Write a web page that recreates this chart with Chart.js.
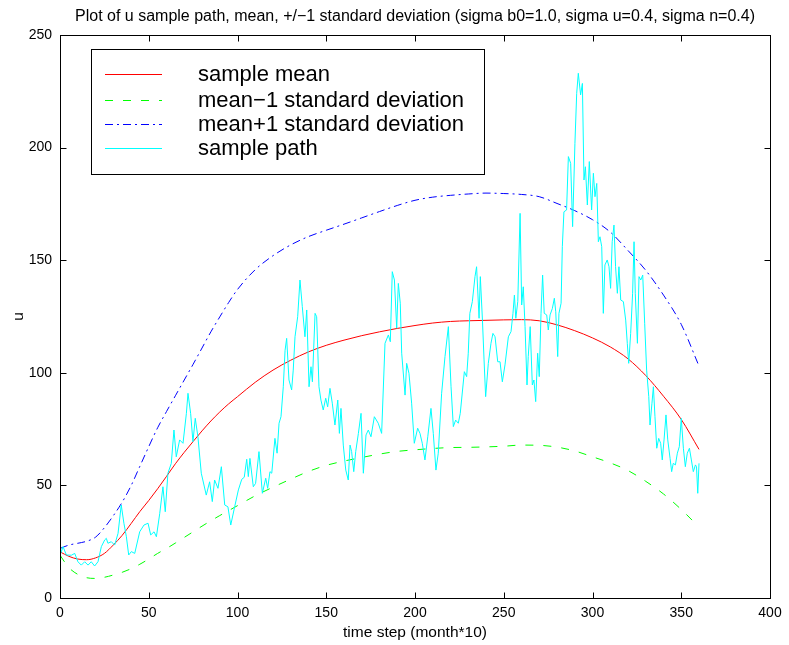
<!DOCTYPE html>
<html><head><meta charset="utf-8">
<script src="https://cdn.jsdelivr.net/npm/chart.js@4/dist/chart.umd.min.js"></script>
<style>html,body{margin:0;padding:0;background:#fff;}#wrap{width:789px;height:645px;position:relative;}</style>
</head><body><div id="wrap"><canvas id="c" width="789" height="645"></canvas></div>
<script>
const titleText = "Plot of u sample path, mean, +/\u22121 standard deviation (sigma b0=1.0, sigma u=0.4, sigma n=0.4)";
const xLabel = "time step (month*10)";
const yLabel = "u";
const xTicks = [0,50,100,150,200,250,300,350,400];
const yTicks = [0,50,100,150,200,250];
const seriesNames = ["sample mean","mean\u22121 standard deviation","mean+1 standard deviation","sample path"];

const gridX = [0,5,10,15,20,25,30,35,40,45,50,55,60,65,70,75,80,85,90,95,100,110,120,130,140,150,160,170,180,190,200,210,220,230,240,250,260,270,280,290,300,310,320,330,340,350,360];
const meanY = [20.5,18.5,17.3,17,17.8,19.8,23.5,27.8,33,38.4,43.3,48.5,54,59.6,64.7,69.5,74.2,78.6,82.6,86.2,89.4,95.8,101.2,105.6,109.3,112.2,114.5,116.5,118.2,119.7,121,122.1,122.8,123.1,123.3,123.5,123.6,123.1,121.3,118.7,115.5,111.5,106.2,98.8,89.6,79.3,66];
const lowerY = [19,13.5,10.5,9,8.7,9.2,10.2,11.4,13,15,17.3,19.8,22,24.4,26.9,29.4,31.9,34.3,36.6,38.8,41,45.4,49.2,52.8,56.2,58.9,60.8,62.4,63.9,65.1,65.8,66.4,66.8,66.9,67.1,67.4,67.9,67.8,67,65.3,62.7,60,56.6,51.8,46.2,39.3,31.5];
const upperY = [22,23.5,24.3,25.2,27,31.2,36.5,42.5,49.8,58.5,67.2,75.6,82.8,89.8,96.8,103.8,111,118.2,124.8,131.2,137,145.8,152,156.8,160.5,163.3,166,168.8,171.6,174.3,176.6,178,178.8,179.4,179.8,179.6,179.2,178.2,175.2,172,168,162.5,154.3,145.5,134.5,121.5,103];

const pathX = [0.4,1.7,3.6,6.4,8.3,10.1,12,13.9,15.8,17.6,19.5,21.4,23.3,25.2,26.1,27,28.9,30.8,32.7,34.5,36,37.4,38.7,40.2,42.1,44.9,47.3,49.6,51.1,53,54.3,56.2,58,59.3,60.8,62.7,64.2,65.5,67.4,69.3,71.2,72.1,73.6,74.9,76.2,77.7,79.6,82.4,84.3,85.8,87.1,89,90.9,92.8,94.6,96.2,98.4,
100.5,102.4,103.8,105.2,106.1,107,108.9,110.2,112.1,114,115.9,117,118.3,119.3,121.1,122.3,123.4,124.5,125.8,126.8,127.7,129,130.5,131.4,132.4,133.9,135.2,136.5,138,139,140.3,141.4,142.2,143.7,144.6,145.9,147,148.3,149.7,150.8,152.1,153.4,154.9,156.5,157.4,158.3,159.6,161,162.4,163.4,164.3,165.5,166.6,168.1,169.6,170.9,172.4,173.7,175.2,177.1,179.3,181.2,183.1,185,186.1,187.2,188.4,189.7,190.6,191.7,192.5,194.4,195.3,196.6,198.1,199.6,
201.5,202.8,204.1,205.6,207.2,209,210.3,211.8,213.1,215,216.9,218.8,220.3,221.6,222.9,224.4,225.5,227.8,229.1,230,230.9,232.3,233.8,234.7,236.1,236.8,238,238.9,239.8,241.3,242.8,243.9,245.1,246.6,247.9,249.2,250.7,252.6,254.1,255.2,256,256.8,257.9,259.2,260.1,261,262,263.1,263.8,264.9,266.1,267,268,269.1,270,271,271.9,272.8,274.2,275.1,276.1,277.4,278.5,279.3,280.4,281.1,282.3,283,283.9,285.4,286.4,287.7,288.8,290.1,291.1,292,293.3,294.3,295.2,296,297.1,298.2,299.5,
300.5,301.4,302.4,303.3,304.2,305.2,306.1,307,308.3,309.3,310.2,311.1,312.1,313,314,314.9,315.9,317.4,318.7,319.6,320.4,321.5,322.6,323.4,324.1,325.3,326.2,327.2,328.3,329.4,330.5,331.7,332.4,333.5,334.3,335.2,336.2,337.3,338.4,339.3,340.3,341.4,342.4,343.7,344.6,345.5,346.7,347.8,348.9,350,351.2,352.3,353.4,354.6,355.7,356.8,358,358.6,359.3,360];
const pathY = [19.8,22.8,19.1,19,19.8,16.1,14.6,16.1,14.6,16.1,14.2,16.1,22.8,25.8,26.5,24.3,25,23.5,28.7,41.3,33.2,27.2,19.1,20.6,19.8,29.4,32.4,33.2,28,29.4,27.2,37.6,49.4,38.3,55.4,59.8,74.6,62.7,70.2,68.7,82,90.9,82,69.4,79.8,71.6,55.4,45.7,51.6,42.8,52.4,48.7,58.3,41.3,40.5,32.4,40.5,
48,52.7,53.6,61.6,53.9,62,49.4,50.9,65,46.5,53.2,48.7,56.1,55.4,70.9,64.3,77.6,80.5,93.8,110,115.3,96.8,92.4,101.2,116,124.9,141.2,129.4,116,127.9,93.8,102.7,96,126.4,124.9,93.8,87.9,83.5,88.7,84.9,93.1,86.5,76.8,87.9,73.1,84.2,67.9,56.8,52.4,67.9,65,56.1,65,73.1,82,55.4,72.4,74.6,71.6,80.5,77.6,73.1,113.1,116.8,113.8,144.9,141.2,119.8,139.7,130.9,108.7,90.1,104.2,99.8,86.5,68.7,
75.4,73.1,68.7,61.3,71.6,84.2,73.1,56.8,64.3,90.9,107.2,120.5,93.8,76.1,79,77.6,82,100.5,98.3,108.7,126.4,131.6,142.7,147.1,124.2,142.7,123.4,105.7,89.4,104.2,113.1,117.5,116,104.9,104.9,96,103.5,116,118.3,126.4,134.5,124.2,131.6,170.8,130.1,138.2,120.5,94.6,107.2,120.5,94.6,96.8,87.2,108.7,98.3,126.4,143.4,126.4,125.7,119,125.7,128.6,133.1,127.1,107.2,126.4,130.9,156,171.5,172.3,196,193,164.9,201.9,224.1,233,223.4,228.5,185.6,191.5,174.5,193.8,172.3,
188.6,178.2,184.1,158.2,160.4,156,126.4,147.9,150.1,147.1,137.5,158.2,165.6,147.1,135.3,147.1,132.3,131.6,123.4,113.1,104.2,117.5,135.3,158.2,135.3,113.1,142.7,141.2,143.4,122,101.2,89.4,76.8,86.5,93.8,80.5,66.5,70.9,68.7,61.3,70.2,81.3,70.2,62,56.1,59.8,59.1,64.3,67.2,79.8,66.5,58.3,64.3,66.5,61.3,56.1,59.1,58.3,46.5,59.8];

const FONT = "'Liberation Sans', Arial, Helvetica, sans-serif";
const toPts = (xs, ys) => xs.map((x, i) => ({x: x, y: ys[i]}));

const styles = [
  {color:'#ff0000', dash:[]},
  {color:'#00ff00', dash:[8,10]},
  {color:'#0000ff', dash:[8,4,2,4]},
  {color:'#00ffff', dash:[]}
];

const decor = {
  id: 'decor',
  afterDraw(chart) {
    const ctx = chart.ctx, a = chart.chartArea;
    const xs = chart.scales.x, ys = chart.scales.y;
    ctx.save();
    ctx.strokeStyle = '#000'; ctx.lineWidth = 1; ctx.setLineDash([]);
    const L = Math.round(a.left) + 0.5, R = Math.round(a.right) + 0.5, T = Math.round(a.top) + 0.5, B = Math.round(a.bottom) + 0.5;
    ctx.strokeRect(L, T, R - L, B - T);
    const tl = 6;
    ctx.beginPath();
    xTicks.forEach(v => {
      const p = Math.round(xs.getPixelForValue(v)) + 0.5;
      ctx.moveTo(p, B); ctx.lineTo(p, B - tl);
      ctx.moveTo(p, T); ctx.lineTo(p, T + tl);
    });
    yTicks.forEach(v => {
      const p = Math.round(ys.getPixelForValue(v)) + 0.5;
      ctx.moveTo(L, p); ctx.lineTo(L + tl, p);
      ctx.moveTo(R, p); ctx.lineTo(R - tl, p);
    });
    ctx.stroke();
    ctx.fillStyle = '#000';
    ctx.textAlign = 'center'; ctx.textBaseline = 'middle';
    ctx.font = '16px ' + FONT;
    ctx.fillText(titleText, (a.left + a.right) / 2, 17);
    ctx.font = '15.5px ' + FONT;
    ctx.fillText(xLabel, (a.left + a.right) / 2, 633);
    ctx.save();
    ctx.translate(19, (a.top + a.bottom) / 2);
    ctx.rotate(-Math.PI / 2);
    ctx.fillText(yLabel, 0, 0);
    ctx.restore();
    const bx = 91.5, by = 49.5, bw = 393, bh = 125;
    ctx.fillStyle = '#fff';
    ctx.fillRect(bx, by, bw, bh);
    ctx.strokeStyle = '#000';
    ctx.strokeRect(bx, by, bw, bh);
    const rows = [74, 100, 124, 148];
    ctx.font = '22px ' + FONT;
    ctx.textAlign = 'left';
    seriesNames.forEach((name, i) => {
      ctx.strokeStyle = styles[i].color;
      ctx.setLineDash(styles[i].dash);
      ctx.beginPath();
      ctx.moveTo(105, rows[i] + 0.5); ctx.lineTo(162, rows[i] + 0.5);
      ctx.stroke();
      ctx.setLineDash([]);
      ctx.fillStyle = '#000';
      ctx.fillText(name, 198, rows[i] + 1);
    });
    ctx.restore();
  }
};

const mk = (i, data, order, smooth) => ({
  label: seriesNames[i], data: data, borderColor: styles[i].color, borderDash: styles[i].dash,
  borderWidth: 1, pointRadius: 0, fill: false, order: order,
  cubicInterpolationMode: smooth ? 'monotone' : 'default', tension: 0
});

new Chart(document.getElementById('c'), {
  type: 'line',
  data: {
    datasets: [
      mk(0, toPts(gridX, meanY), 1, true),
      mk(1, toPts(gridX, lowerY), 2, true),
      mk(2, toPts(gridX, upperY), 3, true),
      mk(3, toPts(pathX, pathY), 0, false)
    ]
  },
  options: {
    responsive: false, animation: false, devicePixelRatio: 1,
    layout: {padding: {top: 35, right: 19, bottom: 0, left: 0}},
    plugins: {legend: {display: false}, title: {display: false}, tooltip: {enabled: false}},
    scales: {
      x: {
        type: 'linear', min: 0, max: 400,
        afterBuildTicks: s => { s.ticks = xTicks.map(v => ({value: v})); },
        afterFit: s => { s.height = 47; },
        grid: {display: false, drawTicks: false}, border: {display: false},
        ticks: {color: '#000', font: {size: 14, family: FONT}, padding: 7, maxRotation: 0, autoSkip: false}
      },
      y: {
        type: 'linear', min: 0, max: 250,
        afterBuildTicks: s => { s.ticks = yTicks.map(v => ({value: v})); },
        afterFit: s => { s.width = 60; },
        grid: {display: false, drawTicks: false}, border: {display: false},
        ticks: {color: '#000', font: {size: 14, family: FONT}, padding: 8, autoSkip: false}
      }
    }
  },
  plugins: [decor]
});
</script>
</body></html>
